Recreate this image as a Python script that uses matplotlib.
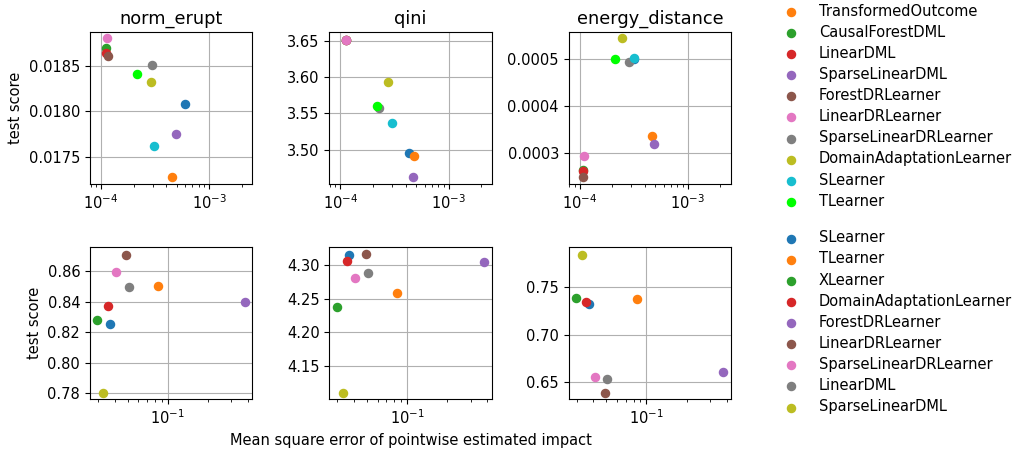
import matplotlib
matplotlib.use("Agg")
import matplotlib.pyplot as plt

plt.rcParams["font.size"] = 10.5

# ---------------- data ----------------
top_methods = ["_Extra", "TransformedOutcome", "CausalForestDML", "LinearDML", "SparseLinearDML",
               "ForestDRLearner", "LinearDRLearner", "SparseLinearDRLearner",
               "DomainAdaptationLearner", "SLearner", "TLearner"]
top_colors = ["#1f77b4", "#ff7f0e", "#2ca02c", "#d62728", "#9467bd", "#8c564b",
              "#e377c2", "#7f7f7f", "#bcbd22", "#17becf", "#00ff00"]

norm_erupt_x = [5.96e-4, 4.52e-4, 1.11e-4, 1.11e-4, 4.98e-4, 1.16e-4, 1.13e-4, 2.94e-4, 2.90e-4, 3.10e-4, 2.14e-4]
norm_erupt_y = [0.01808, 0.017279, 0.018688, 0.018632, 0.01775, 0.018603, 0.018798, 0.018503, 0.01832, 0.017614, 0.018404]

qini_x = [4.34e-4, 4.82e-4, 1.13e-4, 1.13e-4, 4.72e-4, 1.13e-4, 1.13e-4, 2.26e-4, 2.74e-4, 3.02e-4, 2.17e-4]
qini_y = [3.4954, 3.4917, 3.6514, 3.6514, 3.4627, 3.6514, 3.6514, 3.5575, 3.5934, 3.5362, 3.5597]

energy_x = [3.15e-4, 4.62e-4, 1.07e-4, 1.06e-4, 4.85e-4, 1.07e-4, 1.09e-4, 2.86e-4, 2.47e-4, 3.19e-4, 2.11e-4]
energy_y = [0.000501, 0.000336, 0.000264, 0.000262, 0.00032, 0.000249, 0.000293, 0.000494, 0.000545, 0.000502, 0.000501]

bottom_methods = ["SLearner", "TLearner", "XLearner", "DomainAdaptationLearner", "ForestDRLearner",
                  "LinearDRLearner", "SparseLinearDRLearner", "LinearDML", "SparseLinearDML"]
bottom_colors = ["#1f77b4", "#ff7f0e", "#2ca02c", "#d62728", "#9467bd", "#8c564b",
                 "#e377c2", "#7f7f7f", "#bcbd22"]
bottom_x = [0.0368, 0.0843, 0.0297, 0.0354, 0.378, 0.0489, 0.0408, 0.0510, 0.0329]
bottom_left_y = [0.8254, 0.8502, 0.828, 0.837, 0.840, 0.8709, 0.8598, 0.8495, 0.7804]
bottom_mid_y = [4.3148, 4.2589, 4.2376, 4.307, 4.3045, 4.3163, 4.2806, 4.288, 4.1094]
bottom_right_y = [0.7321, 0.7377, 0.7384, 0.7345, 0.6602, 0.6387, 0.6553, 0.6528, 0.7844]

titles = ["norm_erupt", "qini", "energy_distance"]

# ---------------- figure ----------------
fig, axes = plt.subplots(2, 3, figsize=(10.13, 4.49), dpi=100)
fig.subplots_adjust(left=0.0888, right=0.7216, bottom=0.1114, top=0.9287, wspace=0.475, hspace=0.42)

S = 34
top_data = [(norm_erupt_x, norm_erupt_y), (qini_x, qini_y), (energy_x, energy_y)]
for ax, (xs, ys), t in zip(axes[0], top_data, titles):
    for m, c, x, y in zip(top_methods, top_colors, xs, ys):
        ax.scatter(x, y, s=S, color=c, label=m, zorder=3)
    ax.set_xscale("log")
    ax.set_xlim(7.9e-5, 2.5e-3)
    ax.set_title(t, fontsize=12.8)
    ax.grid(True, color="#b0b0b0", linewidth=0.8)
    ax.set_axisbelow(True)

axes[0, 0].set_ylim(0.017202, 0.018868)
axes[0, 0].set_yticks([0.0175, 0.0180, 0.0185])
axes[0, 0].set_yticklabels(["0.0175", "0.0180", "0.0185"])
axes[0, 1].set_ylim(3.453, 3.662)
axes[0, 1].set_yticks([3.50, 3.55, 3.60, 3.65])
axes[0, 1].set_yticklabels(["3.50", "3.55", "3.60", "3.65"])
axes[0, 2].set_ylim(0.000235, 0.000558)
axes[0, 2].set_yticks([0.0003, 0.0004, 0.0005])
axes[0, 2].set_yticklabels(["0.0003", "0.0004", "0.0005"])

bottom_ys = [bottom_left_y, bottom_mid_y, bottom_right_y]
for ax, ys in zip(axes[1], bottom_ys):
    for m, c, x, y in zip(bottom_methods, bottom_colors, bottom_x, ys):
        ax.scatter(x, y, s=S, color=c, label=m, zorder=3)
    ax.set_xscale("log")
    ax.set_xlim(0.0261, 0.4305)
    ax.grid(True, color="#b0b0b0", linewidth=0.8)
    ax.set_axisbelow(True)

axes[1, 0].set_ylim(0.7763, 0.8757)
axes[1, 0].set_yticks([0.78, 0.80, 0.82, 0.84, 0.86])
axes[1, 0].set_yticklabels(["0.78", "0.80", "0.82", "0.84", "0.86"])
axes[1, 1].set_ylim(4.101, 4.3267)
axes[1, 1].set_yticks([4.15, 4.20, 4.25, 4.30])
axes[1, 1].set_yticklabels(["4.15", "4.20", "4.25", "4.30"])
axes[1, 2].set_ylim(0.6321, 0.7921)
axes[1, 2].set_yticks([0.65, 0.70, 0.75])
axes[1, 2].set_yticklabels(["0.65", "0.70", "0.75"])

axes[0, 0].set_ylabel("test score")
axes[1, 0].set_ylabel("test score")
axes[1, 1].set_xlabel("Mean square error of pointwise estimated impact")

h, l = axes[0, 2].get_legend_handles_labels()
fig.legend(h, l, loc="upper left", bbox_to_anchor=(0.761, 1.005), frameon=False,
           fontsize=10.5, labelspacing=0.42, handletextpad=0.9, borderaxespad=0)
h, l = axes[1, 2].get_legend_handles_labels()
fig.legend(h, l, loc="upper left", bbox_to_anchor=(0.761, 0.500), frameon=False,
           fontsize=10.5, labelspacing=0.42, handletextpad=0.9, borderaxespad=0)

fig.savefig("out.png", dpi=100)
